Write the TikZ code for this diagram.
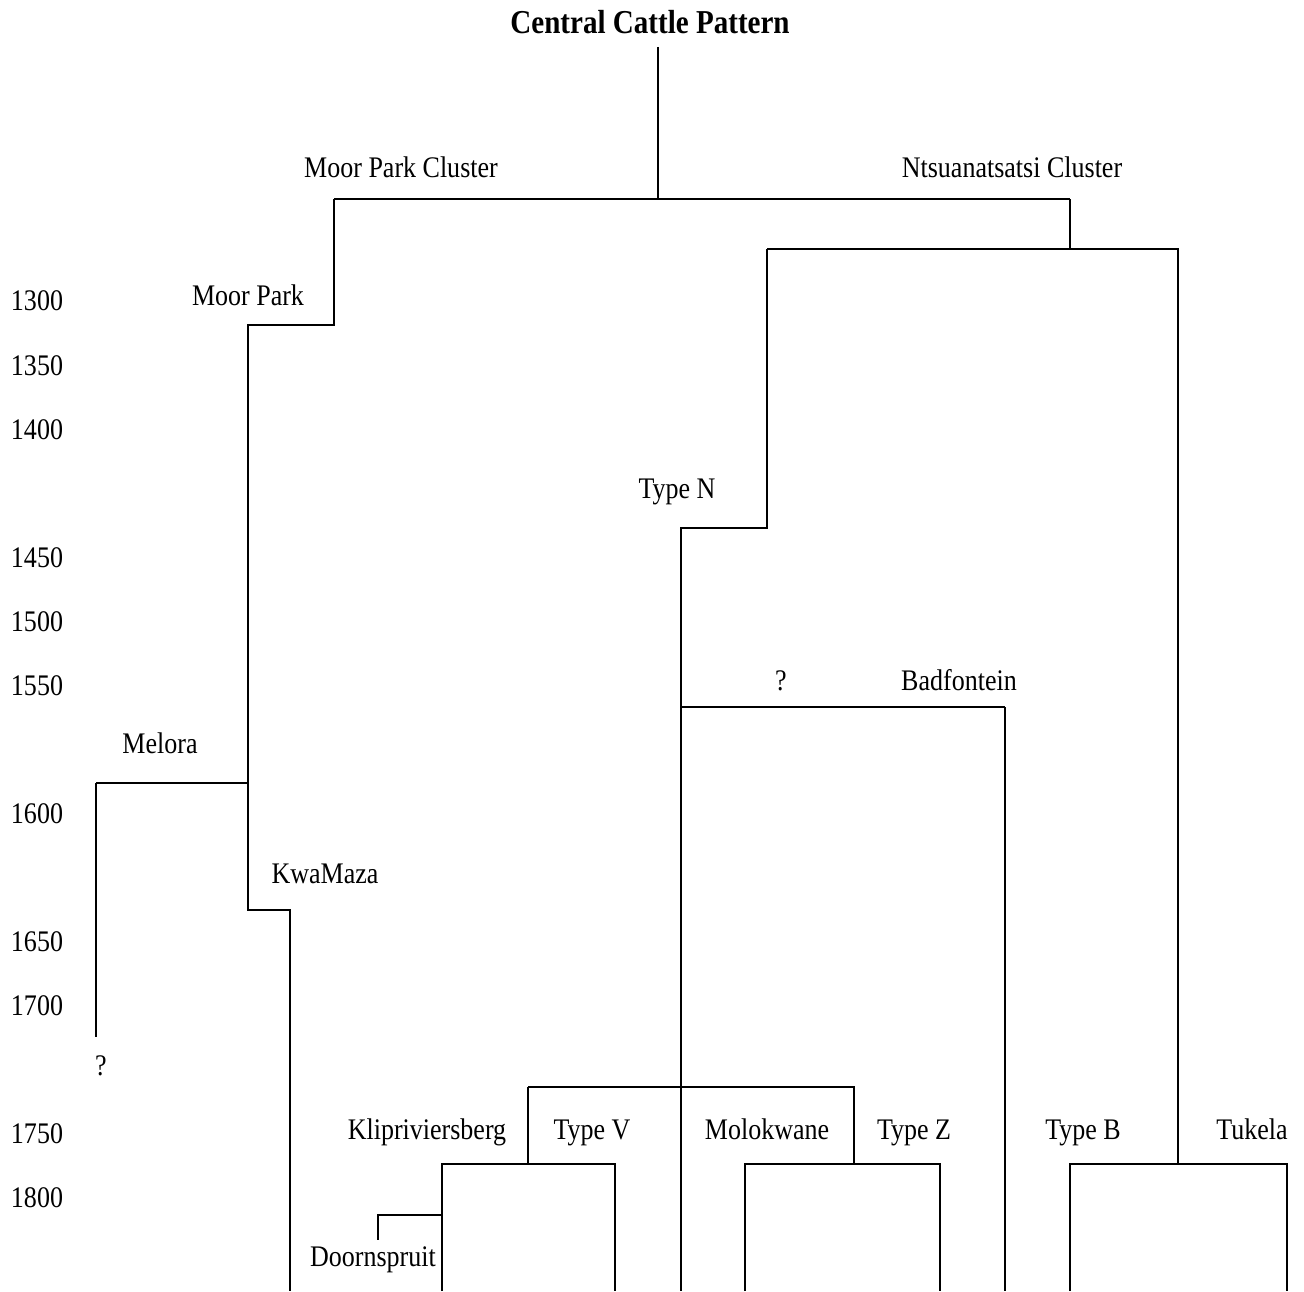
\documentclass[tikz,border=0pt]{standalone}
\usepackage{fontspec}
\setmainfont[FakeStretch=0.87]{Liberation Serif}
\begin{document}
\begin{tikzpicture}[x=0.01cm, y=-0.01cm, line width=0.65pt,
		lbl/.style={font=\fontsize{8.5pt}{10pt}\selectfont, inner sep=0pt, text height=7pt, text depth=1.3pt},
		yr/.style={lbl}]
		\useasboundingbox (0,0) rectangle (1304,1291);

		% title and clusters
		\node[font=\fontsize{9.5pt}{11pt}\selectfont\bfseries, inner sep=0pt] (title) at (650,22) {Central Cattle Pattern};
		\node[lbl] (mpcl) at (401,167) {Moor Park Cluster};
		\node[lbl] (ntcl) at (1012,167) {Ntsuanatsatsi Cluster};

		% years
		\foreach \y/\t in {300/1300, 365/1350, 429/1400, 557/1450, 621/1500, 685/1550, 813/1600, 941/1650, 1005/1700, 1133/1750, 1197/1800}
			\node[yr] at (37,\y) {\t};

		% labels
		\node[lbl] (moorpark) at (248,295) {Moor Park};
		\node[lbl] (typen) at (677,488) {Type N};
		\node[lbl] (qn) at (781,680) {?};
		\node[lbl] (badf) at (959,680) {Badfontein};
		\node[lbl] (melora) at (160,743) {Melora};
		\node[lbl] (kwamaza) at (325,873) {KwaMaza};
		\node[lbl] (qm) at (101,1065) {?};
		\node[lbl] (klip) at (427,1129) {Klipriviersberg};
		\node[lbl] (typev) at (592,1129) {Type V};
		\node[lbl] (molok) at (767,1129) {Molokwane};
		\node[lbl] (typez) at (914,1129) {Type Z};
		\node[lbl] (typeb) at (1083,1129) {Type B};
		\node[lbl] (tukela) at (1252,1129) {Tukela};
		\node[lbl] (doorn) at (373,1256) {Doornspruit};

		% branch points
		\coordinate (top) at (658,47);
		\coordinate (root) at (658,199);
		\coordinate (mpc) at (334,199);
		\coordinate (ntc) at (1070,199);
		\coordinate (nl) at (767,249);
		\coordinate (nr) at (1178,249);
		\coordinate (mp) at (248,325);
		\coordinate (tn) at (681,528);
		\coordinate (bf) at (1005,707);
		\coordinate (me) at (96,783);
		\coordinate (meend) at (96,1037);
		\coordinate (kw) at (290,910);
		\coordinate (vl) at (528,1087);
		\coordinate (vr) at (854,1087);
		\coordinate (kl) at (442,1164);
		\coordinate (tv) at (615,1164);
		\coordinate (mo) at (745,1164);
		\coordinate (tz) at (940,1164);
		\coordinate (tb) at (1070,1164);
		\coordinate (tu) at (1287,1164);
		\coordinate (dj) at (442,1215);
		\coordinate (dend) at (378,1240);
		\coordinate (bot) at (0,1291);

		% tree
		\draw (top) -- (root);
		\draw (mpc) -- (ntc);
		\draw (mpc) |- (mp) |- (kw) -- (kw |- bot);
		\draw (me) -| (meend);
		\draw (me) -- (me -| mp);
		\draw (ntc) -- (ntc |- nl);
		\draw (nl) -- (nr) -- (nr |- tb);
		\draw (nl) |- (tn) -- (tn |- bot);
		\draw (bf) -| (bf |- bot);
		\draw (bf) -- (bf -| tn);
		\draw (vl) -- (vr) -- (vr |- mo);
		\draw (vl) -- (vl |- kl);
		\draw (kl |- bot) -- (kl) -- (tv) -- (tv |- bot);
		\draw (mo |- bot) -- (mo) -- (tz) -- (tz |- bot);
		\draw (tb |- bot) -- (tb) -- (tu) -- (tu |- bot);
		\draw (dj) -| (dend);
	\end{tikzpicture}
\end{document}
